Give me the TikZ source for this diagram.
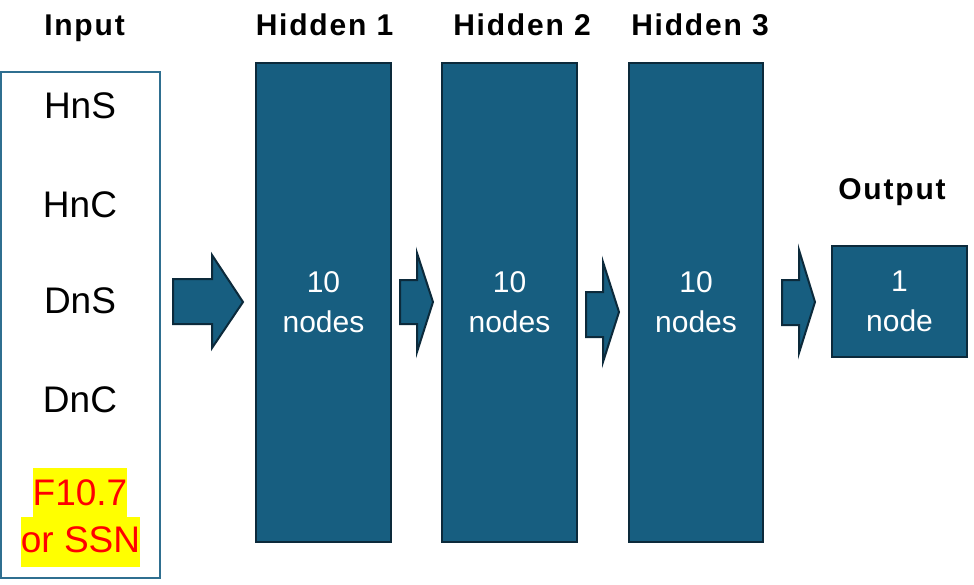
\documentclass[tikz,border=0pt]{standalone}
\usepackage{fontspec}
\setmainfont{Liberation Sans}
\newfontfamily\headfont[LetterSpace=6]{Liberation Sans}
\definecolor{boxfill}{HTML}{175E80}
\definecolor{boxline}{HTML}{0C2A3B}
\definecolor{inline}{HTML}{2F6F90}
\definecolor{hlyellow}{HTML}{FFFF00}
\definecolor{hlred}{HTML}{FF0000}
\tikzset{
  layerbox/.style={draw=boxline, fill=boxfill, line width=2.5pt, rectangle, inner sep=0pt,
    text=white, align=center, font=\fontsize{30}{40}\selectfont},
  inputbox/.style={draw=inline, line width=1.8pt, fill=white, rectangle, inner sep=0pt},
  heading/.style={anchor=base, inner sep=0pt, font=\headfont\bfseries\fontsize{30}{36}\selectfont},
  inlabel/.style={anchor=base, inner sep=0pt, font=\fontsize{37}{44}\selectfont},
  hilabel/.style={fill=hlyellow, text=hlred, inner xsep=0pt, inner ysep=0pt, minimum height=50pt,
    font=\fontsize{37}{44}\selectfont},
  blockarrow/.style={draw=boxline, fill=boxfill, line width=2pt, line join=miter}
}
\begin{document}
\begin{tikzpicture}[x=1pt,y=-1pt]
\useasboundingbox (0,0) rectangle (974,584);
\fill[white] (0,0) rectangle (974,584);

% boxes
\node[inputbox, minimum width=159pt, minimum height=506pt] (inp) at (80.5,325) {};
\node[layerbox, minimum width=135pt, minimum height=479pt] (h1) at (323.5,302.5) {10\\nodes};
\node[layerbox, minimum width=135pt, minimum height=479pt] (h2) at (509.5,302.5) {10\\nodes};
\node[layerbox, minimum width=134pt, minimum height=479pt] (h3) at (696,302.5) {10\\nodes};
\node[layerbox, minimum width=135pt, minimum height=111pt] (out) at (899.5,301.5) {1\\node};

% headings
\node[heading] (tin) at (84.5,35) {Input};
\node[heading] (th1) at (324.5,35) {Hidden 1};
\node[heading] (th2) at (522,35) {Hidden 2};
\node[heading] (th3) at (700,35) {Hidden 3};
\node[heading] (tout) at (892,199) {Output};

% input labels
\node[inlabel] (hns) at (80,118) {HnS};
\node[inlabel] (hnc) at (80,217) {HnC};
\node[inlabel] (dns) at (80,313) {DnS};
\node[inlabel] (dnc) at (80,412) {DnC};
\node[hilabel] (f107) at (80,493) {F10.7};
\node[hilabel, text depth=4pt] (ssn) at (80.5,542) {or SSN};

% block arrows
\draw[blockarrow] (173,279) -- (212,279) -- (212,255) -- (243,302) -- (212,348) -- (212,324) -- (173,324) -- cycle;
\draw[blockarrow] (400,280) -- (417,280) -- (417,253) -- (433,302) -- (417,352) -- (417,324) -- (400,324) -- cycle;
\draw[blockarrow] (586,292) -- (603,292) -- (603,262) -- (619,312) -- (603,362) -- (603,337) -- (586,337) -- cycle;
\draw[blockarrow] (782,280) -- (799,280) -- (799,250) -- (815,302) -- (799,353) -- (799,325) -- (782,325) -- cycle;
\end{tikzpicture}
\end{document}
